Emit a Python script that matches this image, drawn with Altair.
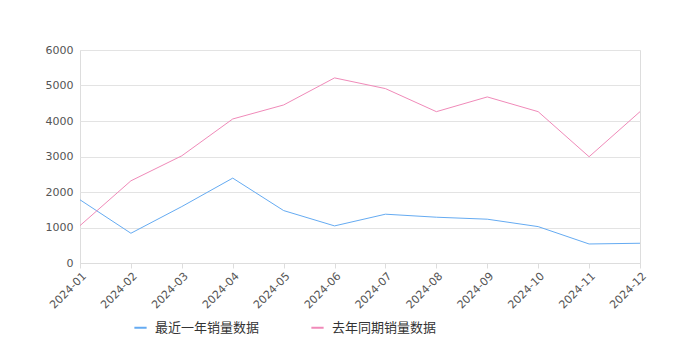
import altair as alt
import pandas as pd

months = ["2024-01", "2024-02", "2024-03", "2024-04", "2024-05", "2024-06",
          "2024-07", "2024-08", "2024-09", "2024-10", "2024-11", "2024-12"]
recent = [1780, 838, 1590, 2391, 1477, 1045, 1375, 1290, 1234, 1025, 536, 556]
last_year = [1053, 2315, 3020, 4057, 4452, 5214, 4912, 4263, 4678, 4263, 2993, 4263]
series_names = ["最近一年销量数据", "去年同期销量数据"]
colors = ["#65abf2", "#f08ab9"]

df = pd.concat([
    pd.DataFrame({"month": months, "value": recent, "series": series_names[0]}),
    pd.DataFrame({"month": months, "value": last_year, "series": series_names[1]}),
])

font = "DejaVu Sans"
cjk = "Noto Sans CJK SC"

chart = alt.Chart(df).mark_line(strokeWidth=1).encode(
    x=alt.X("month:N", sort=months, title=None,
            scale=alt.Scale(type="point", padding=0),
            axis=alt.Axis(labelAngle=-45, labelAlign="right", labelBaseline="top",
                          labelFontSize=11, labelColor="#555555", labelFont=font,
                          domainColor="#dddddd", tickColor="#dddddd", tickSize=5,
                          labelPadding=2, grid=False, labelOverlap=False)),
    y=alt.Y("value:Q", title=None,
            scale=alt.Scale(domain=[0, 6000]),
            axis=alt.Axis(values=[0, 1000, 2000, 3000, 4000, 5000, 6000], format="d",
                          labelFontSize=11, labelColor="#555555", labelFont=font,
                          domain=False, ticks=False, labelPadding=7,
                          gridColor="#e3e3e3")),
    color=alt.Color("series:N", sort=series_names,
                    scale=alt.Scale(domain=series_names, range=colors),
                    legend=alt.Legend(title=None, orient="none", direction="horizontal",
                                      legendX=53, legendY=270, symbolType="stroke",
                                      symbolSize=150, symbolStrokeWidth=2,
                                      labelFontSize=13, labelColor="#333333",
                                      labelFont=cjk, columnPadding=47, labelOffset=7)),
).properties(
    width=560, height=213,
    padding={"left": 72, "top": 42, "right": 32, "bottom": 80},
    autosize=alt.AutoSizeParams(type="none"),
).configure_view(stroke="#dddddd", strokeWidth=1)

chart.save("out.html", embed_options={"renderer": "svg", "actions": False})
